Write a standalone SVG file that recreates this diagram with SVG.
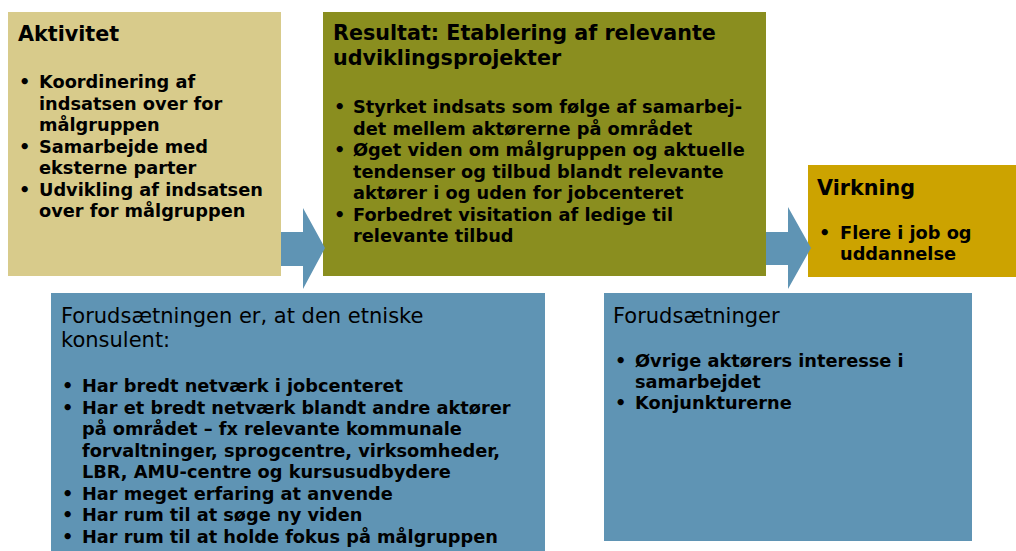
<svg xmlns="http://www.w3.org/2000/svg" width="1016" height="551" viewBox="0 0 1016 551">
<style>
text{font-family:"DejaVu Sans",Verdana,sans-serif;fill:#000}
.t{font-size:20.7px;font-weight:bold}
.r{font-size:21px}
.b{font-size:17.75px;font-weight:bold}
.blue{fill:#5F94B4}
</style>
<rect width="1016" height="551" fill="#fff"/>
<g id="aktivitet">
<rect x="8" y="12" width="273" height="264" fill="#D8CB8B"/>
<text class="t" x="18" y="41">Aktivitet</text>
<text class="b" x="19" y="88">•</text><text class="b" x="39" y="88">Koordinering af</text>
<text class="b" x="39" y="109.5">indsatsen over for</text>
<text class="b" x="39" y="131">målgruppen</text>
<text class="b" x="19" y="152.5">•</text><text class="b" x="39" y="152.5">Samarbejde med</text>
<text class="b" x="39" y="174">eksterne parter</text>
<text class="b" x="19" y="195.5">•</text><text class="b" x="39" y="195.5">Udvikling af indsatsen</text>
<text class="b" x="39" y="217">over for målgruppen</text>
</g>
<g id="resultat">
<rect x="323" y="12" width="443" height="264" fill="#8A8E1F"/>
<text class="t" x="333" y="40">Resultat: Etablering af relevante</text>
<text class="t" x="333" y="65">udviklingsprojekter</text>
<text class="b" x="334" y="113">•</text><text class="b" x="353" y="113">Styrket indsats som følge af samarbej-</text>
<text class="b" x="353" y="134.5">det mellem aktørerne på området</text>
<text class="b" x="334" y="156">•</text><text class="b" x="353" y="156">Øget viden om målgruppen og aktuelle</text>
<text class="b" x="353" y="177.5">tendenser og tilbud blandt relevante</text>
<text class="b" x="353" y="199">aktører i og uden for jobcenteret</text>
<text class="b" x="334" y="220.5">•</text><text class="b" x="353" y="220.5">Forbedret visitation af ledige til</text>
<text class="b" x="353" y="242">relevante tilbud</text>
</g>
<g id="virkning">
<rect x="808" y="165" width="208" height="112" fill="#CCA300"/>
<text class="t" x="817" y="195">Virkning</text>
<text class="b" x="819" y="239">•</text><text class="b" x="840" y="239">Flere i job og</text>
<text class="b" x="840" y="260">uddannelse</text>
</g>
<g id="forudsaetningen">
<rect class="blue" x="51" y="293" width="494" height="258"/>
<text class="r" x="61" y="323">Forudsætningen er, at den etniske</text>
<text class="r" x="61" y="347">konsulent:</text>
<text class="b" x="62" y="392">•</text><text class="b" x="82" y="392">Har bredt netværk i jobcenteret</text>
<text class="b" x="62" y="413.5">•</text><text class="b" x="82" y="413.5">Har et bredt netværk blandt andre aktører</text>
<text class="b" x="82" y="435">på området – fx relevante kommunale</text>
<text class="b" x="82" y="456.5">forvaltninger, sprogcentre, virksomheder,</text>
<text class="b" x="82" y="478">LBR, AMU-centre og kursusudbydere</text>
<text class="b" x="62" y="499.5">•</text><text class="b" x="82" y="499.5">Har meget erfaring at anvende</text>
<text class="b" x="62" y="521">•</text><text class="b" x="82" y="521">Har rum til at søge ny viden</text>
<text class="b" x="62" y="542.5">•</text><text class="b" x="82" y="542.5">Har rum til at holde fokus på målgruppen</text>
</g>
<g id="forudsaetninger">
<rect class="blue" x="604" y="293" width="368" height="248"/>
<text class="r" x="613" y="323">Forudsætninger</text>
<text class="b" x="615" y="367">•</text><text class="b" x="635" y="367">Øvrige aktørers interesse i</text>
<text class="b" x="635" y="388">samarbejdet</text>
<text class="b" x="615" y="409">•</text><text class="b" x="635" y="409">Konjunkturerne</text>
</g>
<g id="connectors">
<polygon class="blue" points="281,232 303,232 303,208 325,248 303,289 303,266 281,266"/>
<polygon class="blue" points="766,232 788,232 788,207 811,248 788,289 788,265 766,265"/>
</g>
</svg>
